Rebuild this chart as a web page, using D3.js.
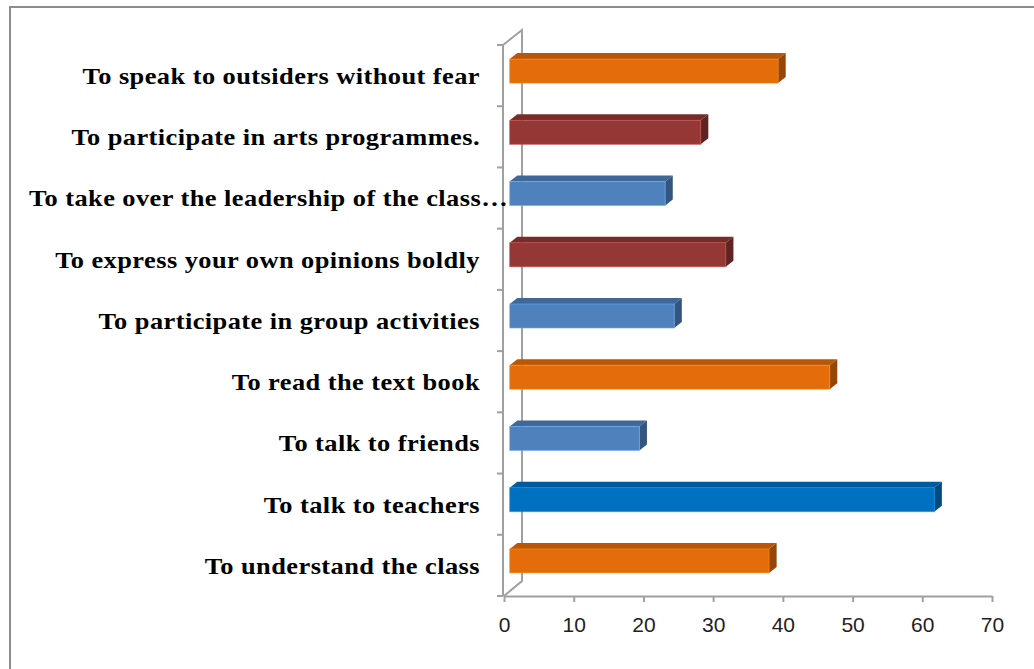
<!DOCTYPE html>
<html>
<head>
<meta charset="utf-8">
<script src="https://cdn.jsdelivr.net/npm/d3@7"></script>
<style>
  html, body { margin: 0; padding: 0; background: #fff; }
  svg { display: block; }
</style>
</head>
<body>
<svg id="chart" width="1034" height="669"></svg>
<script>
// Activities, listed top to bottom
const categories = [
  "To speak to outsiders without fear",
  "To participate in arts programmes.",
  "To take over the leadership of the class…",
  "To express your own opinions boldly",
  "To participate in group activities",
  "To read the text book",
  "To talk to friends",
  "To talk to teachers",
  "To understand the class"
];
const values = [38.5, 27.4, 22.3, 31.0, 23.6, 45.9, 18.6, 60.9, 37.2];
const xTicks = [0, 10, 20, 30, 40, 50, 60, 70];

// Face colours per bar: [front, top, side]
const palette = {
  orange:  ["#E46C0A", "#B85709", "#954608"],
  darkred: ["#953735", "#782C2A", "#612322"],
  blue:    ["#4F81BD", "#3F6898", "#34567E"],
  strong:  ["#0070C0", "#005A9B", "#004A80"]
};
const barColors = ["orange", "darkred", "blue", "darkred", "blue", "orange", "blue", "strong", "orange"];

const svg = d3.select("#chart");

// Outer frame
svg.append("rect")
  .attr("x", 10).attr("y", 7).attr("width", 1040).attr("height", 700)
  .attr("fill", "none").attr("stroke", "#8c8c8c").attr("stroke-width", 2);

// Front plane geometry
const x = d3.scaleLinear().domain([0, 70]).range([504, 992]);
const y = d3.scaleBand().domain(categories).range([45, 596]);
const depth = { dx: 19, dy: -15 };     // full depth of the 3D box
const d0 = 0.3, d1 = 0.7;              // bar occupies this slice of depth
const barH = 24;

const axisColor = "#a0a0a0";
const g = svg.append("g");

// Back wall edge and side diagonals
const x0 = x(0), yTop = y.range()[0], yBot = y.range()[1];
g.append("path")
  .attr("d", `M${x0 - 1},${yTop} L${x0 - 1 + depth.dx},${yTop + depth.dy} L${x0 - 1 + depth.dx},${yBot + depth.dy} L${x0},${yBot}`)
  .attr("fill", "none").attr("stroke", axisColor).attr("stroke-width", 2);

// Bars as three visible faces
const bars = g.selectAll("g.bar").data(categories).enter().append("g").attr("class", "bar");
bars.each(function(c, i) {
  const v = values[i];
  const col = palette[barColors[i]];
  const cy = y(c) + y.bandwidth() / 2;
  const fx0 = x(0) + d0 * depth.dx, fx1 = x(v) + d0 * depth.dx;
  const fy0 = cy - barH / 2 + d0 * depth.dy, fy1 = cy + barH / 2 + d0 * depth.dy;
  const ddx = (d1 - d0) * depth.dx, ddy = (d1 - d0) * depth.dy;
  const sel = d3.select(this);
  // top face
  sel.append("path")
    .attr("d", `M${fx0},${fy0} L${fx0 + ddx},${fy0 + ddy} L${fx1 + ddx},${fy0 + ddy} L${fx1},${fy0} Z`)
    .attr("fill", col[1]);
  // side face
  sel.append("path")
    .attr("d", `M${fx1},${fy0} L${fx1 + ddx},${fy0 + ddy} L${fx1 + ddx},${fy1 + ddy} L${fx1},${fy1} Z`)
    .attr("fill", col[2]);
  // front face
  sel.append("rect")
    .attr("x", fx0).attr("y", fy0).attr("width", fx1 - fx0).attr("height", fy1 - fy0)
    .attr("fill", col[0])
    .attr("stroke", d3.color(col[0]).brighter(0.8)).attr("stroke-opacity", 0.6).attr("stroke-width", 1);
});

// Category axis on the front plane
const yAxisLine = g.append("g");
yAxisLine.append("line")
  .attr("x1", x0 - 1).attr("x2", x0 - 1).attr("y1", yTop).attr("y2", yBot)
  .attr("stroke", axisColor).attr("stroke-width", 2);
const boundaries = categories.map(c => y(c)).concat([yBot]);
yAxisLine.selectAll("line.tick").data(boundaries).enter().append("line")
  .attr("class", "tick")
  .attr("x1", x0 - 7).attr("x2", x0 - 1).attr("y1", d => d).attr("y2", d => d)
  .attr("stroke", axisColor).attr("stroke-width", 2);

// Category labels (slightly widened serif face)
g.selectAll("g.cat").data(categories).enter().append("g")
  .attr("class", "cat")
  .attr("transform", d => `translate(${d.endsWith("…") ? 508 : 480},${y(d) + y.bandwidth() / 2}) scale(1.1,1)`)
  .append("text")
  .attr("dy", "0.35em")
  .attr("text-anchor", "end")
  .attr("font-family", "'Liberation Serif', 'Times New Roman', serif")
  .attr("font-weight", "bold")
  .attr("font-size", 24)
  .attr("letter-spacing", 0.4)
  .attr("fill", "#000")
  .text(d => d);

// Value axis along the front floor
const xAxis = d3.axisBottom(x).tickValues(xTicks).tickSize(6).tickPadding(15).tickSizeOuter(0);
const xg = g.append("g").attr("transform", `translate(0,${yBot})`).call(xAxis);
xg.select(".domain").attr("stroke", axisColor).attr("stroke-width", 2);
xg.selectAll(".tick line").attr("stroke", axisColor).attr("stroke-width", 2);
xg.selectAll(".tick text")
  .attr("font-family", "'Liberation Sans', Arial, sans-serif")
  .attr("font-size", 21)
  .attr("fill", "#222");
</script>
</body>
</html>
